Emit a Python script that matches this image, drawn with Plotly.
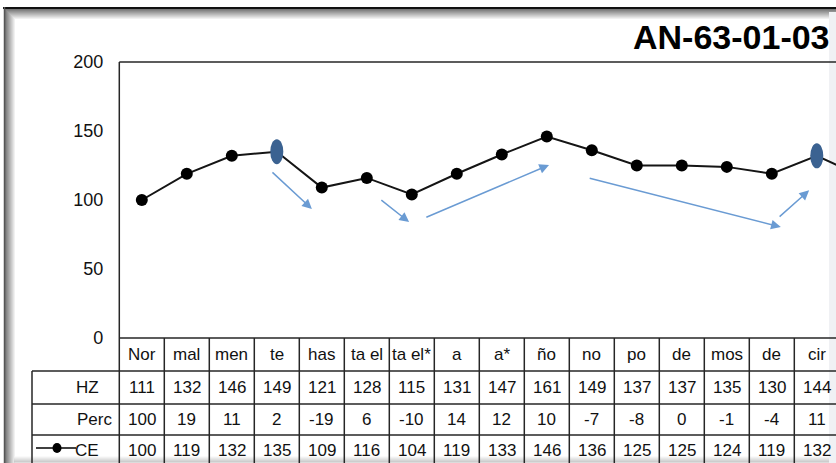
import plotly.graph_objects as go

W, H = 836, 463

categories = ['Nor', 'mal', 'men', 'te', 'has', 'ta el', 'ta el*', 'a', 'a*',
              'ño', 'no', 'po', 'de', 'mos', 'de', 'cir']
hz = [111, 132, 146, 149, 121, 128, 115, 131, 147, 161, 149, 137, 137, 135, 130, 144]
perc = [100, 19, 11, 2, -19, 6, -10, 14, 12, 10, -7, -8, 0, -1, -4, 11]
ce = [100, 119, 132, 135, 109, 116, 104, 119, 133, 146, 136, 125, 125, 124, 119, 132]
ce_next = 117          # next point, cut off by the right edge of the picture
highlight = [3, 15]    # te, cir
# trend arrows: (tail x, tail y) -> (head x, head y) in category / value units
arrows = [
    ((2.87, 121), (3.78, 93.5)),
    ((5.29, 100.7), (5.94, 84)),
    ((6.29, 87), (9.05, 125.4)),
    ((9.92, 116), (14.2, 80.4)),
    ((14.14, 87), (14.83, 107)),
]

FONT = 'Liberation Sans, Arial, sans-serif'
LINE = '#262626'

# pixel layout
plot_left, plot_top, plot_bottom = 119.3, 62, 338
col_w = 45.0
row_y = [338, 371, 404, 435, 470]


def py(p):
    return (H - p) / H


def px(p):
    return p / W


x_all = list(range(len(ce) + 1))
y_all = ce + [ce_next]

fig = go.Figure()
fig.add_trace(go.Scatter(
    x=x_all, y=y_all, mode='lines+markers',
    line=dict(color='#151515', width=2),
    marker=dict(color='black', size=12),
    showlegend=False, hoverinfo='skip'))

shapes = []
# frame shadow
for k in range(10):
    g = int(120 + k * 13.5)
    c = f'rgb({g},{g},{g})'
    shapes.append(dict(type='line', xref='paper', yref='paper', x0=px(5 + k), x1=1,
                       y0=py(9.5 + k), y1=py(9.5 + k), line=dict(color=c, width=1), layer='below'))
    shapes.append(dict(type='line', xref='paper', yref='paper', x0=px(5.5 + k), x1=px(5.5 + k),
                       y0=py(9 + k), y1=0, line=dict(color=c, width=1), layer='below'))
for k in range(6):
    g = int(245 - k * 12)
    c = f'rgb({g},{g},{g})'
    shapes.append(dict(type='line', xref='paper', yref='paper', x0=px(14), x1=1,
                       y0=py(457 + k), y1=py(457 + k), line=dict(color=c, width=1), layer='below'))
shapes.append(dict(type='rect', xref='paper', yref='paper', x0=px(829), x1=1,
                   y0=0, y1=py(12), fillcolor='#f0f1f4', line=dict(width=0), layer='below'))
shapes.append(dict(type='line', xref='paper', yref='paper', x0=px(3), x1=1,
                   y0=py(8), y1=py(8), line=dict(color='#111', width=2)))
shapes.append(dict(type='line', xref='paper', yref='paper', x0=px(4.5), x1=px(4.5),
                   y0=py(7), y1=0, line=dict(color='#555', width=1.5)))

# plot area border
shapes.append(dict(type='line', xref='paper', yref='paper', x0=px(plot_left), x1=1,
                   y0=py(plot_top), y1=py(plot_top), line=dict(color=LINE, width=1.5)))
shapes.append(dict(type='line', xref='paper', yref='paper', x0=px(plot_left), x1=px(plot_left),
                   y0=py(plot_top), y1=0, line=dict(color=LINE, width=1.5)))

# data table grid
shapes.append(dict(type='line', xref='paper', yref='paper', x0=px(plot_left), x1=1,
                   y0=py(row_y[0]), y1=py(row_y[0]), line=dict(color=LINE, width=1.5)))
for r in row_y[1:4]:
    shapes.append(dict(type='line', xref='paper', yref='paper', x0=px(32), x1=1,
                       y0=py(r), y1=py(r), line=dict(color=LINE, width=1.5)))
shapes.append(dict(type='line', xref='paper', yref='paper', x0=px(32), x1=px(32),
                   y0=py(row_y[1]), y1=0, line=dict(color=LINE, width=1.5)))
for i in range(1, len(categories) + 1):
    shapes.append(dict(type='line', xref='x', yref='paper', x0=i - 0.5, x1=i - 0.5,
                       y0=py(row_y[0]), y1=0, line=dict(color=LINE, width=1.5)))

# highlighted points as tall ellipses
for i in highlight:
    shapes.append(dict(type='circle', xref='x', yref='y', xsizemode='pixel', ysizemode='pixel',
                       xanchor=i, yanchor=ce[i], x0=-6.5, x1=6.5, y0=-12.5, y1=12.5,
                       fillcolor='#3b6291', line=dict(color='#3b6291', width=0)))

# legend key in CE row
key_y = py((row_y[3] + 463) / 2 - 1)
shapes.append(dict(type='line', xref='paper', yref='paper', x0=px(36), x1=px(76),
                   y0=key_y, y1=key_y, line=dict(color='black', width=1.5)))
shapes.append(dict(type='circle', xref='paper', yref='paper', xsizemode='pixel', ysizemode='pixel',
                   xanchor=px(57), yanchor=key_y, x0=-4.5, x1=4.5, y0=-5, y1=5,
                   fillcolor='black', line=dict(width=0)))

annotations = []
for (tx, ty), (hx, hy) in arrows:
    annotations.append(dict(x=hx, y=hy, ax=tx, ay=ty, xref='x', yref='y', axref='x', ayref='y',
                            text='', showarrow=True, arrowhead=2, arrowsize=1.3,
                            arrowwidth=1.5, arrowcolor='#6a9bd3'))

tfont = dict(family=FONT, size=17, color='#111')
rows = [categories, hz, perc, ce]
for r, vals in enumerate(rows):
    yc = py((row_y[r] + min(row_y[r + 1], 463)) / 2 + (1 if r == 3 else 0))
    for i, v in enumerate(vals):
        annotations.append(dict(x=i, y=yc, xref='x', yref='paper', text=str(v),
                                showarrow=False, font=tfont, xanchor='center', yanchor='middle'))

for label, r, right in [('HZ', 1, 101), ('Perc', 2, 114), ('CE', 3, 101)]:
    yc = py((row_y[r] + min(row_y[r + 1], 463)) / 2 + (1 if r == 3 else 0))
    annotations.append(dict(x=px(right), y=yc, xref='paper', yref='paper', text=label,
                            showarrow=False, font=tfont, xanchor='right', yanchor='middle'))

annotations.append(dict(x=px(832), y=py(16), xref='paper', yref='paper', text='AN-63-01-03',
                        showarrow=False, xanchor='right', yanchor='top',
                        font=dict(family=FONT, size=34, color='black', weight='bold')))

fig.update_layout(
    width=W, height=H,
    margin=dict(l=0, r=0, t=0, b=0, pad=0, autoexpand=False),
    paper_bgcolor='white', plot_bgcolor='rgba(0,0,0,0)',
    xaxis=dict(domain=[px(plot_left), 1], range=[-0.5, -0.5 + (W - plot_left) / col_w],
               showgrid=False, zeroline=False, showticklabels=False, showline=False,
               automargin=False, fixedrange=True),
    yaxis=dict(domain=[py(plot_bottom), py(plot_top)], range=[0, 200], tickvals=[0, 50, 100, 150, 200],
               showgrid=False, zeroline=False, showline=False, ticks='', ticklabelstandoff=15,
               automargin=False, tickfont=dict(family=FONT, size=18, color='#111'), fixedrange=True),
    shapes=shapes, annotations=annotations,
    showlegend=False,
)

fig.write_html('out.html', config={'displayModeBar': False},
               post_script="document.body.style.margin='0';document.body.style.overflow='hidden';")
